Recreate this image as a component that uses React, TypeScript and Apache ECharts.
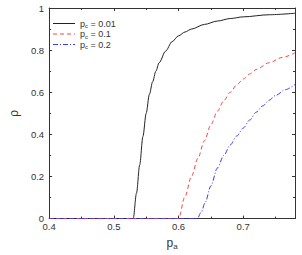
import React, { useEffect, useRef } from "react";
import * as echarts from "echarts";

const seriesNames = ["0.01", "0.1", "0.2"];
const blackX = [0.4, 0.5, 0.53, 0.535, 0.54, 0.545, 0.55, 0.555, 0.56, 0.565, 0.57, 0.58, 0.59, 0.6, 0.61, 0.62, 0.64, 0.66, 0.68, 0.7, 0.74, 0.78];
const blackY = [0, 0, 0, 0.12, 0.255, 0.39, 0.5, 0.59, 0.65, 0.7, 0.74, 0.795, 0.84, 0.868, 0.886, 0.9, 0.922, 0.938, 0.95, 0.958, 0.968, 0.975];
const redX = [0.4, 0.5, 0.6, 0.61, 0.62, 0.63, 0.64, 0.65, 0.66, 0.67, 0.68, 0.69, 0.7, 0.71, 0.72, 0.74, 0.76, 0.78];
const redY = [0, 0, 0, 0.105, 0.2, 0.287, 0.37, 0.445, 0.51, 0.56, 0.6, 0.635, 0.663, 0.687, 0.708, 0.74, 0.765, 0.787];
const blueX = [0.4, 0.5, 0.6, 0.629, 0.635, 0.641, 0.65, 0.66, 0.67, 0.68, 0.69, 0.7, 0.71, 0.72, 0.73, 0.74, 0.75, 0.765, 0.78];
const blueY = [0, 0, 0, 0, 0.03, 0.075, 0.155, 0.24, 0.3, 0.35, 0.392, 0.43, 0.468, 0.505, 0.535, 0.562, 0.585, 0.612, 0.637];
const xTicks = [0.4, 0.5, 0.6, 0.7];
const yTicks = [0, 0.2, 0.4, 0.6, 0.8, 1];

const colors = ["#222222", "#f04848", "#3c3cf0"];
const dashes: (number[] | null)[] = [null, [4, 3], [5, 2, 1, 2]];

const zip = (xs: number[], ys: number[]) => xs.map((x, i) => [x, ys[i]]);

export default function App() {
  const ref = useRef<HTMLDivElement>(null);
  useEffect(() => {
    const chart = echarts.init(ref.current!, undefined, { renderer: "svg" });
    const axisColor = "#333";
    const font = "Liberation Sans, Arial, sans-serif";
    const labelStyle = { color: "#333", fontSize: 9.5, fontFamily: font };
    const baseX = {
      type: "value" as const,
      min: 0.4,
      max: 0.78,
      interval: 0.1,
      axisLine: { show: true, onZero: false, lineStyle: { color: axisColor, width: 1 } },
      axisTick: { show: true, inside: true, length: 3, lineStyle: { color: axisColor } },
      minorTick: { show: true, splitNumber: 2, length: 2, lineStyle: { color: axisColor } },
      splitLine: { show: false },
    };
    const baseY = {
      type: "value" as const,
      min: 0,
      max: 1,
      interval: 0.2,
      axisLine: { show: true, onZero: false, lineStyle: { color: axisColor, width: 1 } },
      axisTick: { show: true, inside: true, length: 3, lineStyle: { color: axisColor } },
      minorTick: { show: true, splitNumber: 2, length: 2, lineStyle: { color: axisColor } },
      splitLine: { show: false },
    };
    const rich = {
      sub: { fontSize: 6, fontFamily: font, padding: [5, 0, 0, 0], color: "#333" },
      n: { fontSize: 9, fontFamily: font, color: "#333" },
    };
    const legendGraphics: any[] = [];
    seriesNames.forEach((s, i) => {
      const y = 23.5 + i * 10.5;
      legendGraphics.push({
        type: "line",
        shape: { x1: 53, y1: y, x2: 75, y2: y },
        style: { stroke: colors[i], lineWidth: 1, lineDash: dashes[i] || undefined },
      });
      legendGraphics.push({
        type: "text",
        x: 80,
        y: y,
        style: { text: "{n|p}{sub|c}{n| = " + s + "}", rich, verticalAlign: "middle", textVerticalAlign: "middle", fill: "#333" },
      });
    });
    const mkSeries = (i: number, xs: number[], ys: number[]) => ({
      name: "p_c = " + seriesNames[i],
      type: "line",
      symbol: "none",
      smooth: 0.3,
      smoothMonotone: "x",
      data: zip(xs, ys),
      lineStyle: { color: colors[i], width: 1, type: dashes[i] || "solid" },
      itemStyle: { color: colors[i] },
    });
    chart.setOption({
      animation: false,
      grid: { left: 35, right: 7, top: 8, bottom: 30 },
      graphic: legendGraphics,
      xAxis: [
        {
          ...baseX,
          position: "bottom",
          axisLabel: { ...labelStyle, margin: 3, formatter: (v: number) => (xTicks.some((t) => Math.abs(t - v) < 1e-6) ? v.toFixed(1) : "") },
          name: "{n|p}{sub|a}",
          nameLocation: "middle",
          nameGap: 15,
          nameTextStyle: { rich: { n: { fontSize: 12, fontFamily: font, color: "#333" }, sub: { fontSize: 8, fontFamily: font, color: "#333", padding: [7, 0, 0, 0] } } },
        },
        { ...baseX, position: "top", axisLabel: { show: false } },
      ],
      yAxis: [
        {
          ...baseY,
          position: "left",
          axisLabel: { ...labelStyle, margin: 5, formatter: (v: number) => (yTicks.some((t) => Math.abs(t - v) < 1e-6) ? String(+v.toFixed(1)) : "") },
          name: "ρ",
          nameLocation: "middle",
          nameRotate: 90,
          nameGap: 25,
          nameTextStyle: { fontSize: 12, fontFamily: font, color: "#333" },
        },
        { ...baseY, position: "right", axisLabel: { show: false } },
      ],
      series: [mkSeries(0, blackX, blackY), mkSeries(1, redX, redY), mkSeries(2, blueX, blueY)],
    });
    return () => chart.dispose();
  }, []);
  return <div ref={ref} style={{ position: "fixed", left: 0, top: 0, width: 302, height: 255, background: "#fff" }} />;
}
